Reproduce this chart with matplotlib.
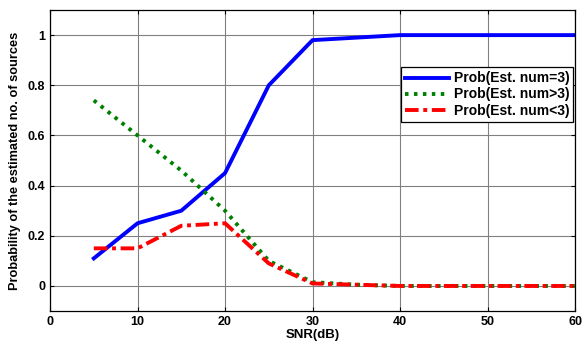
import matplotlib
matplotlib.use("Agg")
import matplotlib.pyplot as plt

snr = [5, 10, 15, 20, 25, 30, 35, 40, 45, 50, 55, 60]
p_eq = [0.11, 0.25, 0.30, 0.45, 0.80, 0.98, 0.99, 1.0, 1.0, 1.0, 1.0, 1.0]
p_gt = [0.74, 0.60, 0.46, 0.30, 0.10, 0.015, 0.005, 0.0, 0.0, 0.0, 0.0, 0.0]
p_lt = [0.15, 0.15, 0.24, 0.25, 0.09, 0.01, 0.005, 0.0, 0.0, 0.0, 0.0, 0.0]
labels = ["Prob(Est. num=3)", "Prob(Est. num>3)", "Prob(Est. num<3)"]

plt.rcParams['font.family'] = ['Liberation Sans', 'DejaVu Sans']
plt.rcParams['font.weight'] = 'bold'

fig = plt.figure(figsize=(5.82, 3.46), dpi=100)
ax = fig.add_axes([0.086, 0.101, 0.902, 0.870])

ax.plot(snr, p_eq, color='#0000ff', lw=2.8, ls='-', label=labels[0])
ax.plot(snr, p_gt, color='#008000', lw=2.8, ls=(0, (0.9, 1.4)), label=labels[1])
ax.plot(snr, p_lt, color='#ff0000', lw=2.8, ls=(0, (3.5, 1.2, 1.0, 1.2)), label=labels[2])

ax.set_xlim(0, 60)
ax.set_ylim(-0.1, 1.1)
ax.set_xticks(range(0, 61, 10))
ax.set_yticks([0, 0.2, 0.4, 0.6, 0.8, 1])
ax.set_yticklabels(['0', '0.2', '0.4', '0.6', '0.8', '1'])
ax.grid(True, color='#808080', lw=0.8, ls='-')
ax.tick_params(direction='in', labelsize=9, length=3, width=0.8,
               top=True, right=True)
for lab in ax.get_xticklabels() + ax.get_yticklabels():
    lab.set_fontweight('bold')
for s in ax.spines.values():
    s.set_linewidth(0.9)

ax.set_xlabel('SNR(dB)', fontsize=9.5, fontweight='bold', labelpad=1)
ax.set_ylabel('Probability of the estimated no. of sources', fontsize=9.2, fontweight='bold', labelpad=5)

leg = ax.legend(loc='upper right', bbox_to_anchor=(0.997, 0.81), fontsize=10,
                frameon=True, fancybox=False, edgecolor='black', framealpha=1,
                handlelength=3.2, handletextpad=0.3, borderpad=0.3, labelspacing=0.15,
                borderaxespad=0)
leg.get_frame().set_linewidth(0.9)
for t in leg.get_texts():
    t.set_fontweight('bold')

fig.savefig('out.png', dpi=100)
